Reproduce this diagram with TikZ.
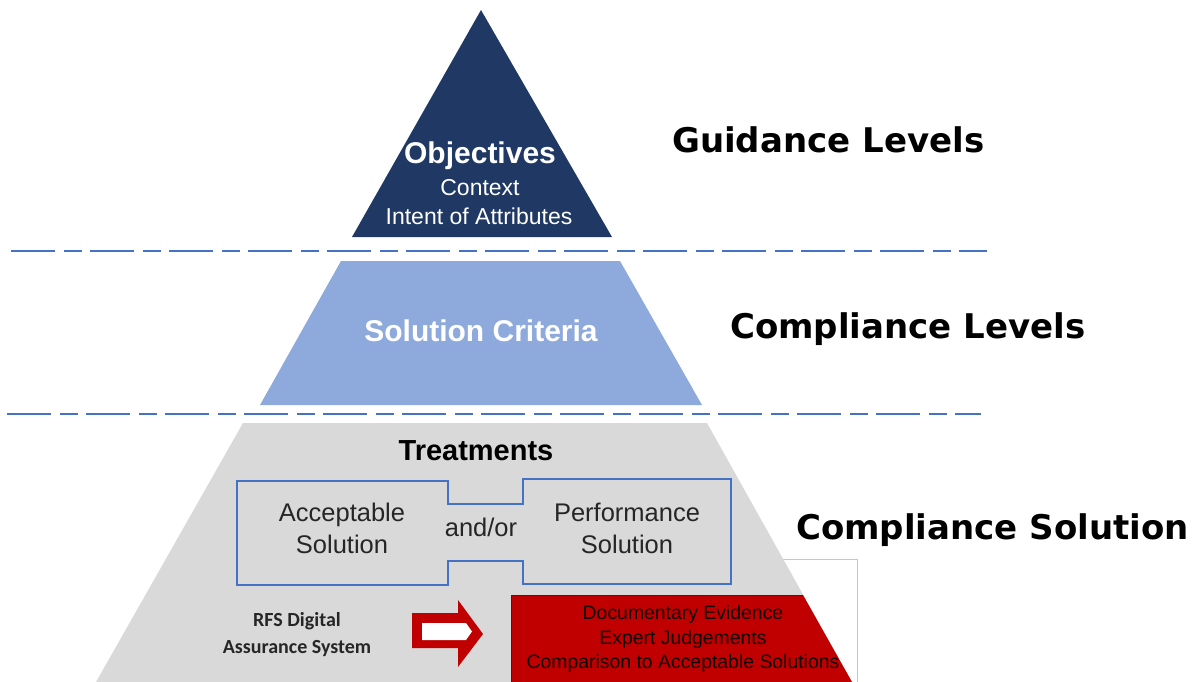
\documentclass[tikz,border=0pt]{standalone}
\usepackage{fontspec}
\setmainfont{Liberation Sans}
\newfontfamily\dejavu{DejaVu Sans}
\newfontfamily\carlito{Carlito}
\definecolor{navy}{HTML}{203864}
\definecolor{lightblue}{HTML}{8EA9DB}
\definecolor{pgray}{HTML}{D9D9D9}
\definecolor{lineblue}{HTML}{4472C4}
\definecolor{boxred}{HTML}{C00000}
\tikzset{
  levellabel/.style={anchor=base west, inner sep=0pt, font=\dejavu\bfseries\fontsize{34}{40}\selectfont},
  sepline/.style={draw=lineblue, line width=2.4pt, dash pattern=on 44pt off 9pt on 18pt off 8pt},
  whitetxt/.style={text=white, inner sep=0pt, align=center},
  blacktxt/.style={text=black, inner sep=0pt, align=center},
}
\begin{document}
\begin{tikzpicture}[x=1pt,y=-1pt]
\useasboundingbox (0,0) rectangle (1194,682);
% white box behind bottom right
\draw[draw=black!22, fill=white, line width=0.8pt] (770,559) rectangle (857,690);
% pyramid layers
\fill[navy] (481,10) -- (612,237) -- (352,237) -- cycle;
\fill[lightblue] (341,261) -- (620,261) -- (702,405) -- (260,405) -- cycle;
\fill[pgray] (243,423) -- (707,423) -- (852,682) -- (96,682) -- cycle;
% separator lines
\coordinate (l1a) at (11,251); \coordinate (l1b) at (987,251);
\coordinate (l2a) at (7,414); \coordinate (l2b) at (981,414);
\draw[sepline] (l1a) -- (l1b);
\draw[sepline] (l2a) -- (l2b);
% top texts
\node[whitetxt, font=\bfseries\fontsize{30}{34}\selectfont] (obj) at (480,156) {Objectives};
\node[whitetxt, font=\fontsize{23}{28}\selectfont] (ctx) at (480,188) {Context};
\node[whitetxt, font=\fontsize{23}{28}\selectfont] (intent) at (479,216) {Intent of Attributes};
\node[whitetxt, font=\bfseries\fontsize{30}{34}\selectfont] (crit) at (481,331) {Solution Criteria};
\node[blacktxt, font=\bfseries\fontsize{29}{34}\selectfont] (treat) at (476,451) {Treatments};
% outline shape
\draw[lineblue, line width=2pt] (237,481) -- (448,481) -- (448,504) -- (523,504) -- (523,479) -- (731,479) -- (731,584) -- (523,584) -- (523,561) -- (448,561) -- (448,585) -- (237,585) -- cycle;
\node[blacktxt, text=black!85, font=\fontsize{25.5}{32}\selectfont] (acc) at (342,528) {Acceptable\\Solution};
\node[blacktxt, text=black!85, font=\fontsize{25.5}{32}\selectfont] (andor) at (481,527) {and/or};
\node[blacktxt, text=black!85, font=\fontsize{25.5}{32}\selectfont] (perf) at (627,528) {Performance\\Solution};
% RFS text
\node[blacktxt, text=black!85, font=\carlito\bfseries\fontsize{20}{27}\selectfont] (rfs) at (297,635) {RFS Digital\\Assurance System};
% arrow
\fill[boxred] (412,613) -- (458,613) -- (458,600) -- (483,634) -- (458,667) -- (458,648) -- (412,648) -- cycle;
\fill[white] (422,623) -- (466,623) -- (472,631.5) -- (466,640) -- (422,640) -- cycle;
% red box
\fill[boxred] (511,595) -- (803,595) -- (852,682) -- (511,682) -- cycle;
\draw[draw=black!30!boxred, line width=0.8pt] (803,595) -- (511,595) -- (511,682);
\node[blacktxt, text=black!90!boxred, font=\fontsize{19.4}{24.5}\selectfont] (evid) at (683,639) {Documentary Evidence\\Expert Judgements\\Comparison to Acceptable Solutions};
% level labels
\node[levellabel] (guid) at (672,153) {Guidance Levels};
\node[levellabel] (compl) at (730,338) {Compliance Levels};
\node[levellabel] (comps) at (796,539) {Compliance Solution};
\end{tikzpicture}
\end{document}
